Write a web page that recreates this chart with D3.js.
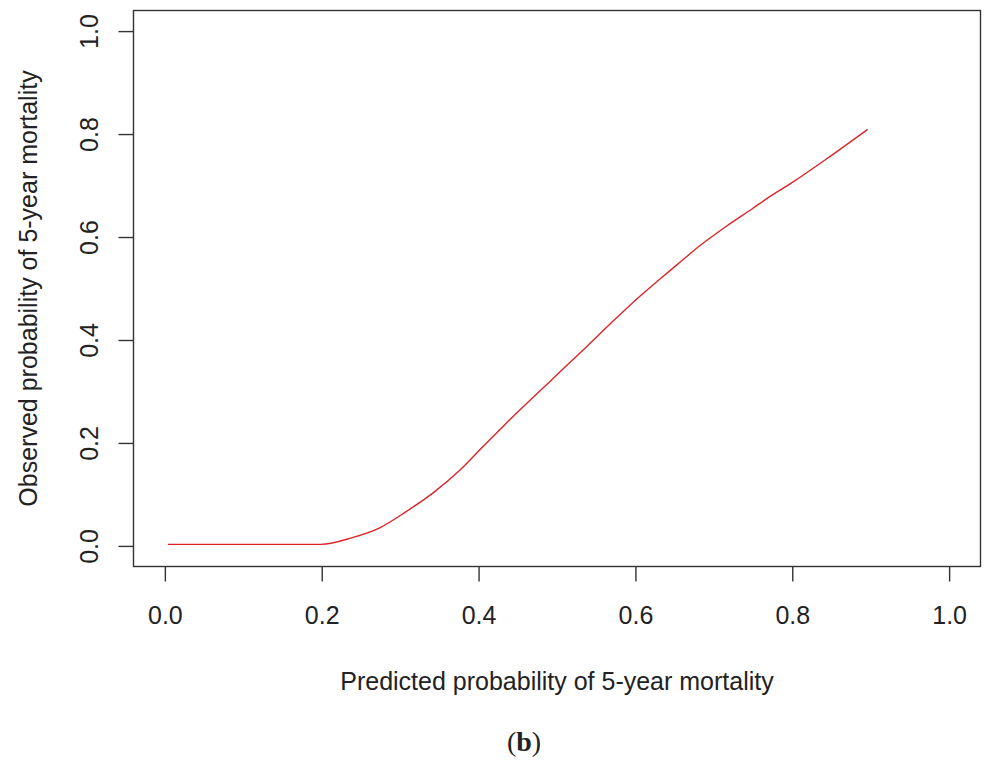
<!DOCTYPE html>
<html>
<head>
<meta charset="utf-8">
<script src="https://cdn.jsdelivr.net/npm/d3@7"></script>
<style>
  html, body { margin: 0; padding: 0; background: #fff; }
  svg { display: block; }
  text { font-family: "Liberation Sans", Arial, sans-serif; fill: #222; }
</style>
</head>
<body>
<svg id="chart" width="985" height="762"></svg>
<script>
// Calibration curve: predicted vs observed 5-year mortality
const predicted = [0.004, 0.10, 0.172, 0.199, 0.239, 0.274, 0.308, 0.342, 0.376, 0.405, 0.435, 0.465,
  0.490, 0.512, 0.537, 0.567, 0.605, 0.631, 0.656, 0.682, 0.716, 0.749, 0.767, 0.800, 0.843, 0.896];
const observed = [0.003, 0.003, 0.003, 0.003, 0.016, 0.035, 0.067, 0.103, 0.147, 0.192, 0.238, 0.282,
  0.318, 0.350, 0.386, 0.430, 0.484, 0.518, 0.550, 0.583, 0.621, 0.655, 0.674, 0.706, 0.751, 0.809];
const xTicks = [0.0, 0.2, 0.4, 0.6, 0.8, 1.0];
const yTicks = [0.0, 0.2, 0.4, 0.6, 0.8, 1.0];
const xTitle = "Predicted probability of 5-year mortality";
const yTitle = "Observed probability of 5-year mortality";
const panelLabel = "b";

const svg = d3.select("#chart");
const box = { left: 133.5, right: 980.5, top: 10.5, bottom: 566.5 };

// Axis ranges extended by 4% on each side, like R's default "r" style
const x = d3.scaleLinear().domain([-0.04, 1.04]).range([box.left, box.right]);
const y = d3.scaleLinear().domain([-0.04, 1.04]).range([box.bottom, box.top]);

const axisColor = "#333";

// plot frame
svg.append("rect")
  .attr("x", box.left).attr("y", box.top)
  .attr("width", box.right - box.left).attr("height", box.bottom - box.top)
  .attr("fill", "none").attr("stroke", axisColor).attr("stroke-width", 1.4);

// x axis
const xAxis = svg.append("g").attr("transform", `translate(0,${box.bottom})`)
  .call(d3.axisBottom(x).tickValues(xTicks).tickFormat(d3.format(".1f"))
    .tickSize(15).tickPadding(25).tickSizeOuter(0));
xAxis.select(".domain").remove();
xAxis.selectAll(".tick line").attr("stroke", axisColor).attr("stroke-width", 1.4);
xAxis.selectAll(".tick text").attr("font-size", 25).attr("fill", "#222")
  .attr("font-family", "Liberation Sans, Arial, sans-serif");

// y axis with rotated labels
const yAxis = svg.append("g").attr("transform", `translate(${box.left},0)`)
  .call(d3.axisLeft(y).tickValues(yTicks).tickFormat(d3.format(".1f"))
    .tickSize(15).tickSizeOuter(0));
yAxis.select(".domain").remove();
yAxis.selectAll(".tick line").attr("stroke", axisColor).attr("stroke-width", 1.4);
yAxis.selectAll(".tick text")
  .attr("x", null).attr("dy", null)
  .attr("transform", "translate(-36,0) rotate(-90)")
  .attr("text-anchor", "middle")
  .attr("font-size", 25).attr("fill", "#222")
  .attr("font-family", "Liberation Sans, Arial, sans-serif");

// calibration curve
const pts = predicted.map((p, i) => [p, observed[i]]);
svg.append("path")
  .datum(pts)
  .attr("fill", "none")
  .attr("stroke", "#dc2428")
  .attr("stroke-width", 1.4)
  .attr("d", d3.line().x(d => x(d[0])).y(d => y(d[1])).curve(d3.curveMonotoneX));

// axis titles
svg.append("text")
  .attr("x", (box.left + box.right) / 2).attr("y", 690)
  .attr("text-anchor", "middle").attr("font-size", 25)
  .text(xTitle);
svg.append("text")
  .attr("transform", `translate(37,${(box.top + box.bottom) / 2}) rotate(-90)`)
  .attr("text-anchor", "middle").attr("font-size", 25)
  .text(yTitle);

// panel label "(b)" with bold letter
const lab = svg.append("text")
  .attr("x", 524).attr("y", 751)
  .attr("text-anchor", "middle")
  .style("font-family", "'Liberation Serif', 'DejaVu Serif', serif")
  .attr("font-size", 28).attr("fill", "#000");
lab.append("tspan").text("(");
lab.append("tspan").attr("font-weight", "bold").text(panelLabel);
lab.append("tspan").text(")");
</script>
</body>
</html>
